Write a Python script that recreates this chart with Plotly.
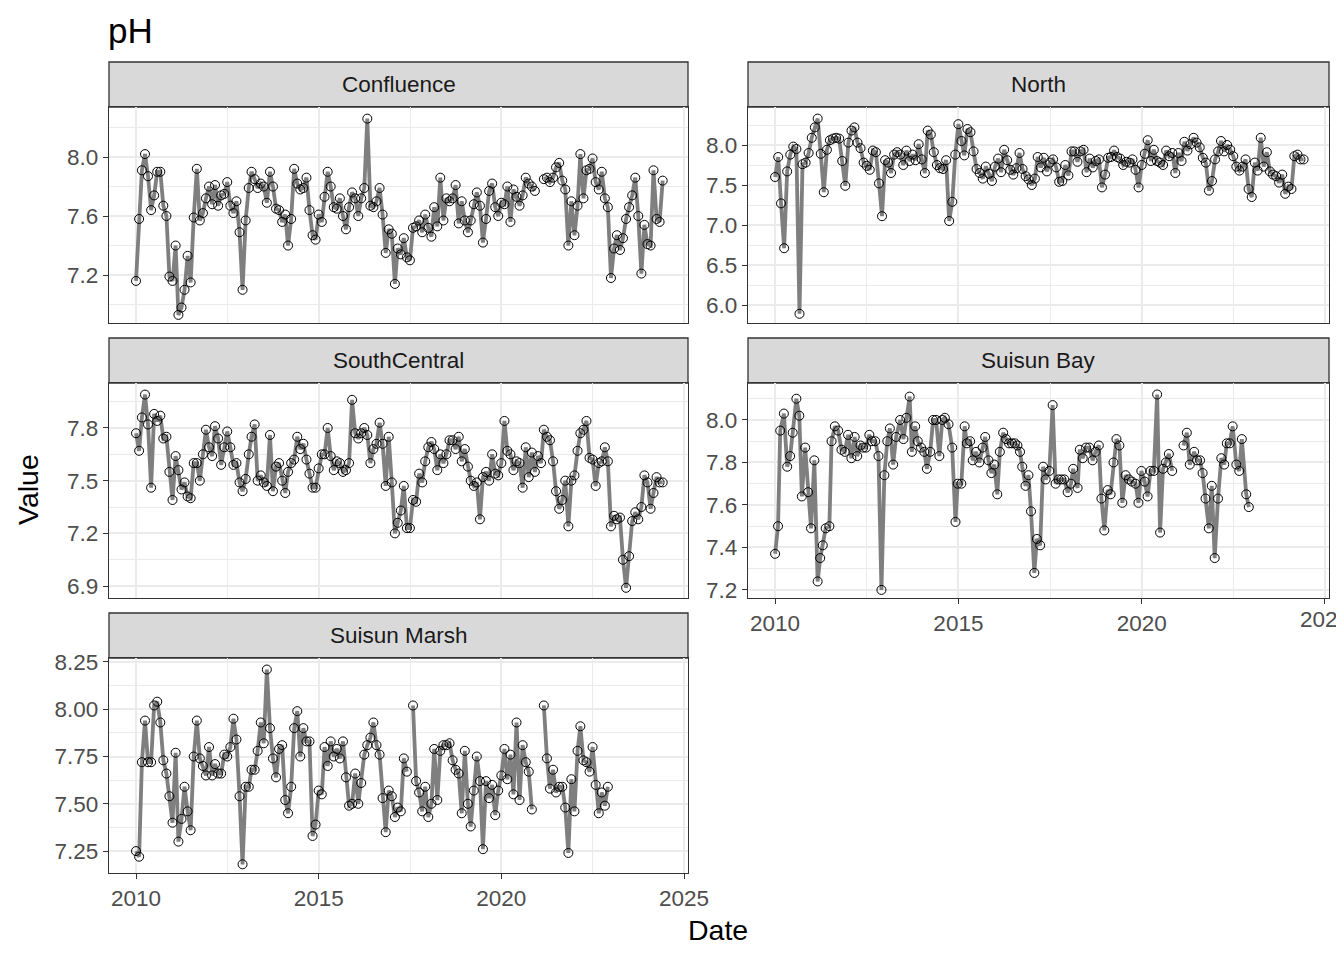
import numpy as np
import pandas as pd
import plotly.graph_objects as go

# ---------------- data (pH, monthly from Jan 2010 unless dates given) ----------------
confluence_ph = [
    7.16, 7.58, 7.91, 8.02, 7.87, 7.64, 7.74, 7.90, 7.90, 7.67,
    7.60, 7.19, 7.16, 7.40, 6.93, 6.98, 7.10, 7.33, 7.15, 7.59,
    7.92, 7.57, 7.62, 7.72, 7.80, 7.68, 7.81, 7.67, 7.74, 7.75,
    7.83, 7.67, 7.62, 7.70, 7.49, 7.10, 7.57, 7.79, 7.90, 7.85,
    7.79, 7.82, 7.80, 7.69, 7.90, 7.80, 7.65, 7.64, 7.56, 7.61,
    7.40, 7.58, 7.92, 7.82, 7.78, 7.79, 7.86, 7.64, 7.47, 7.44,
    7.61, 7.56, 7.73, 7.90, 7.80, 7.66, 7.65, 7.72, 7.60, 7.51,
    7.66, 7.76, 7.72, 7.60, 7.72, 7.79, 8.26, 7.67, 7.66, 7.70,
    7.79, 7.61, 7.35, 7.51, 7.48, 7.14, 7.38, 7.34, 7.45, 7.32,
    7.30, 7.52, 7.53, 7.57, 7.49, 7.61, 7.52, 7.46, 7.66, 7.53,
    7.86, 7.57, 7.72, 7.70, 7.72, 7.81, 7.55, 7.70, 7.57, 7.49,
    7.57, 7.68, 7.76, 7.67, 7.42, 7.58, 7.77, 7.82, 7.66, 7.60,
    7.69, 7.68, 7.80, 7.56, 7.78, 7.73, 7.67, 7.74, 7.86, 7.82,
    7.80, 7.77, None, None,
    7.85, 7.86, 7.83, 7.86, 7.93, 7.96, 7.84, 7.78, 7.40, 7.70,
    7.47, 7.67, 8.02, 7.72, 7.91, 7.92, 7.99, 7.83, 7.78, 7.90,
    7.72, 7.66, 7.18, 7.38, 7.47, 7.37, 7.45, 7.58, 7.66, 7.74,
    7.86, 7.60, 7.21, 7.54, 7.41, 7.40, 7.91, 7.58, 7.56, 7.84,
]

north_ph = [
    7.60, 7.85, 7.27, 6.71, 7.67, 7.88, 7.98, 7.95, 5.89, 7.76,
    7.78, 7.90, 8.09, 8.22, 8.33, 7.89, 7.41, 7.94, 8.06, 8.08,
    8.09, 8.08, 7.80, 7.49, 8.03, 8.18, 8.22, 8.03, 7.96, 7.78,
    7.74, 7.69, 7.93, 7.91, 7.52, 7.11, 7.81, 7.78, 7.65, 7.88,
    7.91, 7.88, 7.75, 7.93, 7.80, 7.88, 7.81, 8.01, 7.82, 7.65,
    8.18, 8.13, 7.91, 7.75, 7.71, 7.70, 7.81, 7.05, 7.29, 7.88,
    8.26, 8.05, 7.87, 8.20, 8.16, 7.92, 7.70, 7.65, 7.58, 7.73,
    7.64, 7.55, 7.73, 7.83, 7.66, 7.94, 7.81, 7.69, 7.63, 7.71,
    7.90, 7.70, 7.61, 7.57, 7.50, 7.58, 7.85, 7.72, 7.84,
    7.67, 7.78, 7.82, 7.72, 7.54, 7.55, 7.75, 7.62, 7.92, 7.92,
    7.79, 7.92, 7.94, 7.66, 7.83, 7.72, 7.80, 7.82, 7.47, 7.63,
    7.84, 7.85, 7.93, 7.85, 7.83, 7.75, 7.79, 7.78, 7.82, 7.69,
    7.47, 7.75, 7.89, 8.06, 7.80, 7.94, 7.80, 7.78, 7.75, 7.93,
    7.86, 7.90, 7.65, 7.90, 7.80, 8.04, 7.93, 8.01, 8.09, 8.03,
    7.97, 7.84, 7.78, 7.43, 7.55, 7.82, 7.92, 8.05, 7.92, 8.00,
    7.94, 7.86, 7.73, 7.68, 7.73, 7.82, 7.45, 7.35, 7.78, 7.68,
    8.09, 7.73, 7.91, 7.67, 7.63, 7.61, 7.53, 7.63, 7.39, 7.48,
    7.45, 7.86, 7.88, 7.82, 7.82,
]

southcentral_ph = [
    7.77, 7.67, 7.86, 7.99, 7.82, 7.46, 7.88, 7.84, 7.87, 7.74,
    7.75, 7.55, 7.39, 7.64, 7.56, 7.45, 7.49, 7.41, 7.40, 7.60,
    7.60, 7.50, 7.65, 7.79, 7.69, 7.64, 7.81, 7.74, 7.59, 7.69,
    7.78, 7.69, 7.59, 7.60, 7.49, 7.44, 7.51, 7.65, 7.75, 7.82,
    7.50, 7.53, 7.49, 7.47, 7.76, 7.44, 7.58, 7.60, 7.50, 7.43,
    7.55, 7.60, 7.62, 7.75, 7.68, 7.71, 7.62, 7.54, 7.46, 7.46,
    7.57, 7.65, 7.65, 7.80, 7.64, 7.56, 7.61, 7.60, 7.55, 7.56,
    7.60, 7.96, 7.77, 7.74, 7.77, 7.80, 7.76, 7.60, 7.68, 7.71,
    7.83, 7.71, 7.47, 7.75, 7.49, 7.20, 7.26, 7.33, 7.47, 7.23,
    7.23, 7.39, 7.38, 7.54, 7.49, 7.61, 7.69, 7.72, 7.68, 7.56,
    7.65, 7.60, 7.65, 7.73, 7.73, 7.68, 7.75, 7.61, 7.68, 7.58,
    7.50, 7.47, 7.49, 7.28, 7.52, 7.55, 7.50, 7.65, 7.54, 7.53,
    7.60, 7.84, 7.67, 7.65, 7.56, 7.61, 7.60, 7.46, 7.69, 7.52,
    7.66, 7.55, 7.64, 7.60, 7.79, 7.75, 7.73, 7.61, 7.44, 7.34,
    7.39, 7.50, 7.24, 7.50, 7.53, 7.67, 7.77, 7.79, 7.84, 7.63,
    7.62, 7.47, 7.60, 7.61, 7.69, 7.61, 7.24, 7.30, 7.28, 7.29,
    7.05, 6.89, 7.07, 7.27, 7.32, 7.28, 7.35, 7.53, 7.49, 7.34,
    7.43, 7.52, 7.49, 7.49,
]

suisun_bay_year = [
    2010.00, 2010.08, 2010.14, 2010.24, 2010.33, 2010.41, 2010.48, 2010.58, 2010.66, 2010.73,
    2010.82, 2010.90, 2010.98, 2011.07, 2011.16, 2011.23, 2011.30, 2011.38, 2011.48, 2011.54,
    2011.63, 2011.72, 2011.81, 2011.90, 2011.99, 2012.08, 2012.17, 2012.24, 2012.33, 2012.40,
    2012.48, 2012.57, 2012.64, 2012.73, 2012.82, 2012.90, 2012.98, 2013.06, 2013.13, 2013.22,
    2013.30, 2013.41, 2013.50, 2013.58, 2013.67, 2013.73, 2013.82, 2013.89, 2013.98, 2014.07,
    2014.14, 2014.23, 2014.31, 2014.39, 2014.48, 2014.56, 2014.63, 2014.73, 2014.83, 2014.92,
    2014.98, 2015.08, 2015.17, 2015.23, 2015.32, 2015.39, 2015.48, 2015.57, 2015.66, 2015.73,
    2015.82, 2015.90, 2015.98, 2016.06, 2016.13, 2016.22, 2016.30, 2016.38, 2016.46, 2016.54,
    2016.61, 2016.68, 2016.74, 2016.83, 2016.91, 2016.98, 2017.07, 2017.14, 2017.23, 2017.31,
    2017.38, 2017.48, 2017.57, 2017.65, 2017.73, 2017.81, 2017.89, 2017.98, 2018.07, 2018.13,
    2018.25, 2018.31, 2018.39, 2018.48, 2018.57, 2018.66, 2018.74, 2018.83, 2018.90, 2018.98,
    2019.07, 2019.15, 2019.23, 2019.31, 2019.39, 2019.47, 2019.56, 2019.65, 2019.73, 2019.83,
    2019.91, 2019.99, 2020.08, 2020.16, 2020.24, 2020.33, 2020.42, 2020.50, 2020.58, 2020.66,
    2020.74, 2020.83, 2021.00,
    2021.14, 2021.23, 2021.31, 2021.43, 2021.51, 2021.59, 2021.66, 2021.74, 2021.83, 2021.91,
    2021.99, 2022.08, 2022.17, 2022.25, 2022.32, 2022.40, 2022.48, 2022.58, 2022.66, 2022.73,
    2022.85, 2022.92,
]
suisun_bay_ph = [
    7.37, 7.50, 7.95, 8.03, 7.78, 7.83, 7.94, 8.10, 8.02, 7.64,
    7.87, 7.66, 7.49, 7.81, 7.24, 7.35, 7.41, 7.49, 7.50, 7.90,
    7.97, 7.95, 7.86, 7.85, 7.93, 7.82, 7.92, 7.83, 7.88, 7.87,
    7.87, 7.93, 7.90, 7.90, 7.83, 7.20, 7.74, 7.90, 7.96, 7.79,
    7.92, 8.00, 7.91, 8.01, 8.11, 7.85, 7.97, 7.90, 7.87, 7.85,
    7.77, 7.85, 8.00, 8.00, 7.83, 8.00, 8.01, 7.98, 7.87, 7.52,
    7.70, 7.70, 7.97, 7.89, 7.90, 7.81, 7.85, 7.80, 7.87, 7.92,
    7.81, 7.75, 7.79, 7.65, 7.85, 7.94, 7.91, 7.89, 7.89, 7.89,
    7.88, 7.85, 7.78, 7.69, 7.74, 7.57, 7.28, 7.44, 7.41, 7.78,
    7.72, 7.76, 8.07, 7.70, 7.72, 7.72, 7.72, 7.66, 7.70, 7.77,
    7.68, 7.86, 7.82, 7.87, 7.87, 7.81, 7.85, 7.88, 7.63, 7.48,
    7.67, 7.65, 7.80, 7.91, 7.88, 7.61, 7.74, 7.72, 7.71, 7.70,
    7.61, 7.76, 7.71, 7.64, 7.76, 7.76, 8.12, 7.47, 7.77, 7.80,
    7.84, 7.76, None,
    7.88, 7.94, 7.79, 7.85, 7.81, 7.81, 7.75, 7.63, 7.49, 7.69,
    7.35, 7.63, 7.82, 7.79, 7.89, 7.89, 7.97, 7.79, 7.76, 7.91,
    7.65, 7.59,
]

suisun_marsh_ph = [
    7.25, 7.22, 7.72, 7.94, 7.72, 7.72, 8.02, 8.04, 7.93, 7.73,
    7.66, 7.54, 7.40, 7.77, 7.30, 7.42, 7.59, 7.46, 7.36, 7.75,
    7.94, 7.74, 7.70, 7.65, 7.80, 7.65, 7.71, 7.66, 7.66, 7.76,
    7.75, 7.80, 7.95, 7.84, 7.54, 7.18, 7.59, 7.59, 7.68, 7.68,
    7.78, 7.93, 7.82, 8.21, 7.90, 7.74, 7.64, 7.79, 7.81, 7.52,
    7.45, 7.59, 7.90, 7.99, 7.75, 7.90, 7.83, 7.83, 7.33, 7.39,
    7.57, 7.55, 7.80, 7.70, 7.83, 7.75, 7.79, 7.74, 7.83, 7.64,
    7.49, 7.50, 7.66, 7.50, 7.61, 7.76, 7.81, 7.85, 7.93, 7.81,
    7.76, 7.53, 7.35, 7.57, 7.54, 7.43, 7.48, 7.46, 7.74, 7.67,
    None,
    8.02, 7.62, 7.56, 7.46, 7.59, 7.43, 7.50, 7.79, 7.52, 7.78,
    7.81, 7.81, 7.82, 7.73, 7.68, 7.66, 7.45, 7.78, 7.50, 7.38,
    7.57, 7.75, 7.62, 7.26, 7.62, 7.53, 7.60, 7.44, 7.57, 7.65,
    7.79, 7.63, 7.76, 7.55, 7.93, 7.52, 7.81, 7.72, 7.67, 7.47,
    None, None, None,
    8.02, 7.74, 7.58, 7.68, 7.56, 7.59, 7.59, 7.48, 7.24, 7.63,
    7.46, 7.78, 7.91, 7.73, 7.72, 7.67, 7.80, 7.60, 7.45, 7.56,
    7.49, 7.59,
]

x_tick_years = [2010, 2015, 2020, 2025]
x_minor_years = [2007.5, 2012.5, 2017.5, 2022.5]

panels = [
    # name, dates, values, y ticks, y tick text, y minor ticks, y range
    ("Confluence", None, confluence_ph, [7.2, 7.6, 8.0], ["7.2", "7.6", "8.0"],
     [7.0, 7.4, 7.8, 8.2], [6.875, 8.339]),
    ("North", None, north_ph, [6.0, 6.5, 7.0, 7.5, 8.0], ["6.0", "6.5", "7.0", "7.5", "8.0"],
     [6.25, 6.75, 7.25, 7.75, 8.25], [5.775, 8.475]),
    ("SouthCentral", None, southcentral_ph, [6.9, 7.2, 7.5, 7.8], ["6.9", "7.2", "7.5", "7.8"],
     [7.05, 7.35, 7.65, 7.95], [6.832, 8.056]),
    ("Suisun Bay", suisun_bay_year, suisun_bay_ph, [7.2, 7.4, 7.6, 7.8, 8.0],
     ["7.2", "7.4", "7.6", "7.8", "8.0"], [7.3, 7.5, 7.7, 7.9, 8.1], [7.162, 8.174]),
    ("Suisun Marsh", None, suisun_marsh_ph, [7.25, 7.5, 7.75, 8.0, 8.25],
     ["7.25", "7.50", "7.75", "8.00", "8.25"], [7.375, 7.625, 7.875, 8.125], [7.134, 8.271]),
]

# page is 1344x960; the HTML body adds an 8px margin, so the figure itself is smaller
OFF = 8
W, H = 1344 - 2 * OFF, 960 - 2 * OFF


def px(x):
    return (x - OFF) / W


def py(y):
    return 1 - (y - OFF) / H


# panel boxes in page pixels (left, right, top, bottom)
boxes = [
    (109, 688, 107, 323),
    (748, 1329, 107, 323),
    (109, 688, 383, 598),
    (748, 1329, 383, 598),
    (109, 688, 658, 873),
]
strip_h = 45
show_x = [False, False, False, True, True]
FONT = "Liberation Sans, Arial, sans-serif"
TICK_FONT = dict(family=FONT, size=22.5, color="#4D4D4D")


def year_to_date(y):
    y = np.asarray(y, dtype=float)
    return pd.Timestamp("2010-01-01") + pd.to_timedelta((y - 2010) * 365.25, unit="D")


def ydate(y):
    return (pd.Timestamp("2010-01-01") + pd.Timedelta(days=(y - 2010) * 365.25)).strftime("%Y-%m-%d")


fig = go.Figure()
layout = {}
shapes = []
annotations = []
x_range = [ydate(2009.262), ydate(2025.11)]

for i, (name, years, vals, yt, ytt, ymin, yr) in enumerate(panels):
    k = "" if i == 0 else str(i + 1)
    if years is None:
        dates = pd.date_range("2010-01-01", periods=len(vals), freq="MS")
    else:
        dates = year_to_date(years)
    y = [np.nan if v is None else v for v in vals]
    fig.add_trace(go.Scatter(
        x=dates, y=y, mode="lines", connectgaps=False,
        line=dict(color="#7F7F7F", width=3.8),
        xaxis="x" + k, yaxis="y" + k, showlegend=False, hoverinfo="skip"))
    fig.add_trace(go.Scatter(
        x=dates, y=y, mode="markers",
        marker=dict(symbol="circle-open", color="black", size=9, line=dict(width=1.0)),
        xaxis="x" + k, yaxis="y" + k, showlegend=False))

    l, r, t, b = boxes[i]
    layout["xaxis" + k] = dict(
        domain=[px(l), px(r)], anchor="y" + k, type="date", range=x_range,
        automargin=False,
        tickvals=[ydate(v) for v in x_tick_years], ticktext=[str(v) for v in x_tick_years],
        showticklabels=show_x[i], ticks="outside" if show_x[i] else "",
        ticklen=5, tickwidth=1.1, tickcolor="#333333",
        tickfont=TICK_FONT,
        showgrid=True, gridcolor="#EBEBEB", gridwidth=1.5,
        minor=dict(tickvals=[ydate(v) for v in x_minor_years], showgrid=True,
                   gridcolor="#EBEBEB", gridwidth=0.7, ticks=""),
        showline=True, mirror=True, linecolor="#333333", linewidth=1.3,
        zeroline=False, fixedrange=True,
    )
    layout["yaxis" + k] = dict(
        domain=[py(b), py(t)], anchor="x" + k, range=yr,
        automargin=False,
        tickvals=yt, ticktext=ytt,
        ticks="outside", ticklen=5, tickwidth=1.1, tickcolor="#333333",
        tickfont=TICK_FONT,
        showgrid=True, gridcolor="#EBEBEB", gridwidth=1.5,
        minor=dict(tickvals=ymin, showgrid=True, gridcolor="#EBEBEB", gridwidth=0.7, ticks=""),
        showline=True, mirror=True, linecolor="#333333", linewidth=1.3,
        zeroline=False, fixedrange=True,
    )
    # facet strip
    shapes.append(dict(type="rect", xref="paper", yref="paper",
                       x0=px(l), x1=px(r), y0=py(t), y1=py(t - strip_h),
                       fillcolor="#D9D9D9", line=dict(color="#333333", width=1.3), layer="below"))
    annotations.append(dict(text=name, xref="paper", yref="paper",
                            x=px((l + r) / 2), y=py(t - strip_h / 2),
                            xanchor="center", yanchor="middle", showarrow=False,
                            font=dict(family=FONT, size=22.5, color="#1A1A1A")))

# the right-column "2025" label runs off the page edge in the original; plotly hides it, so add it back
annotations.append(dict(text="2025", xref="x4", yref="paper", x=ydate(2025), y=py(605),
                        xanchor="center", yanchor="top", showarrow=False, font=TICK_FONT))

annotations.append(dict(text="pH", xref="paper", yref="paper", x=px(106), y=py(30),
                        xanchor="left", yanchor="middle", showarrow=False,
                        font=dict(family=FONT, size=35, color="black")))
annotations.append(dict(text="Value", xref="paper", yref="paper", x=px(28), y=py(490),
                        xanchor="center", yanchor="middle", showarrow=False, textangle=-90,
                        font=dict(family=FONT, size=28.5, color="black")))
annotations.append(dict(text="Date", xref="paper", yref="paper", x=px(718), y=py(930),
                        xanchor="center", yanchor="middle", showarrow=False,
                        font=dict(family=FONT, size=28.5, color="black")))

fig.update_layout(
    width=W, height=H, margin=dict(l=0, r=0, t=0, b=0, autoexpand=False),
    paper_bgcolor="white", plot_bgcolor="white",
    shapes=shapes, annotations=annotations, **layout,
)

fig.write_html("out.html", config={"displayModeBar": False})
